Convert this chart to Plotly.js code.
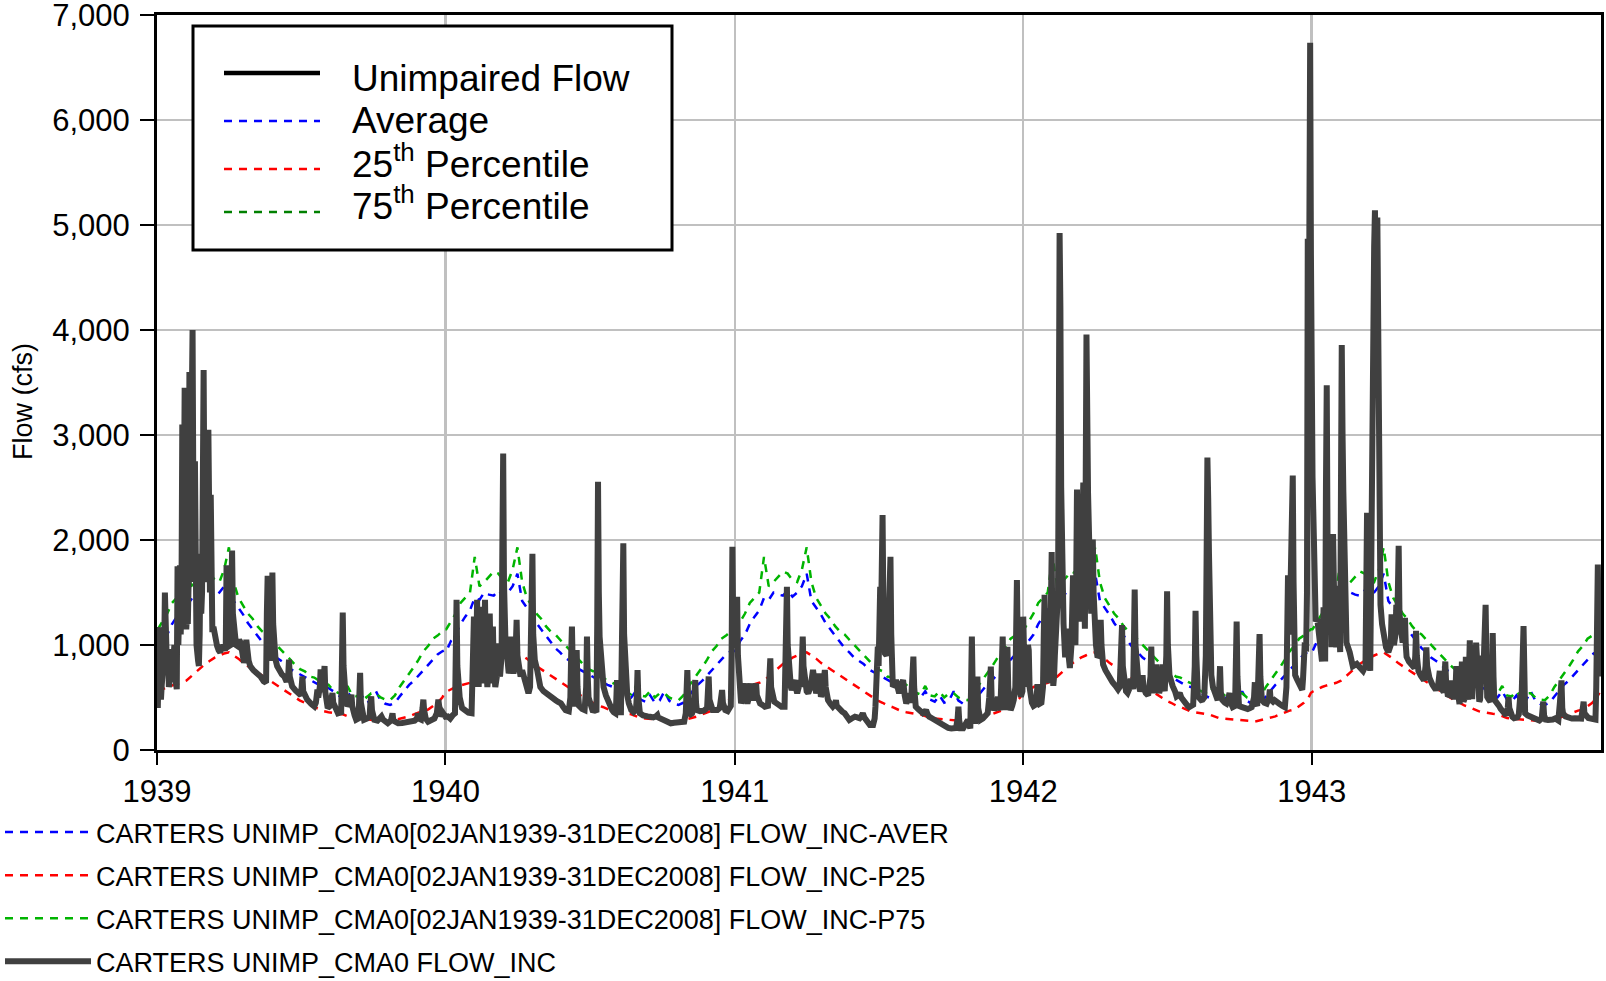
<!DOCTYPE html>
<html><head><meta charset="utf-8">
<script src="https://cdn.plot.ly/plotly-3.0.1.min.js"></script>
<style>html,body{margin:0;padding:0;background:#fff}#chart{width:1606px;height:981px}</style>
</head><body><div id="chart"></div>
<script>
// ---- Day-of-year climatology (repeats every year) ----
const climDoy = [1,7,13,19,25,31,37,43,49,55,61,67,73,79,85,91,97,103,109,115,121,127,133,139,145,151,157,163,169,175,181,187,193,199,205,211,217,223,229,235,241,247,253,259,265,271,277,283,289,295,301,307,313,319,325,331,337,343,349,355,361,364];
const climAver = [940,1040,1100,1200,1270,1330,1450,1430,1500,1480,1470,1520,1460,1500,1560,1680,1420,1360,1290,1210,1150,1090,1030,970,930,880,850,820,770,745,720,690,665,645,620,603,590,560,520,500,560,480,460,520,450,470,560,470,440,430,450,510,570,620,660,710,770,820,870,910,940,950];
const climP25 = [555,580,600,615,625,640,660,700,740,780,820,850,880,900,920,930,900,870,830,800,770,740,705,680,650,620,590,560,525,500,470,450,425,410,390,370,360,350,345,340,320,305,300,295,290,285,285,280,275,275,285,300,310,320,340,360,375,385,420,450,500,545];
const climP75 = [1150,1230,1300,1400,1450,1500,1840,1560,1600,1650,1700,1680,1620,1600,1720,1930,1600,1450,1380,1300,1250,1180,1130,1100,1050,1000,960,900,850,810,770,750,700,690,660,640,620,570,545,530,610,520,510,560,500,540,540,500,480,475,520,600,660,720,790,860,940,990,1060,1090,1130,1150];
const years = [1939,1940,1941,1942,1943];

// ---- Unimpaired daily flow, [day of year (0 = Jan 1), cfs] ----
const flow1939 = [[1,400],[2,1100],[3,1170],[4,600],[5,480],[6,620],[7,800],[8,700],[9,900],[10,1500],[11,1000],[12,950],[14,900],[15,600],[17,700],[18,960],[19,800],[21,900],[22,1000],[23,700],[25,580],[26,1750],[27,1000],[28,1300],[29,1760],[30,1100],[31,1500],[32,3100],[33,1600],[34,2200],[35,3450],[36,1800],[37,1150],[38,1300],[39,1200],[40,1600],[41,3600],[42,1900],[43,1600],[44,3300],[45,4000],[46,2400],[47,1700],[48,2750],[49,1500],[50,1000],[52,850],[53,800],[54,1100],[55,1870],[56,1300],[57,1500],[58,2900],[59,3620],[60,2300],[61,1600],[62,2430],[63,1600],[64,1800],[65,3050],[66,2100],[67,1500],[68,2430],[69,1500],[70,1150],[72,1150],[74,1000],[76,990],[78,950],[80,930],[82,1000],[84,960],[86,950],[87,980],[88,1760],[89,1200],[90,1050],[91,990],[93,1000],[94,1300],[95,1900],[96,1300],[98,1050],[100,1000],[102,990],[104,1050],[106,1020],[108,900],[110,830],[112,900],[113,1050],[114,980],[116,850],[118,800],[122,760],[127,735],[131,700],[135,655],[138,640],[139,1300],[140,1660],[141,1100],[142,950],[144,850],[145,1200],[146,1690],[147,1200],[148,950],[150,860],[152,800],[154,767],[158,720],[161,700],[164,650],[166,700],[167,860],[168,700],[171,607],[175,570],[178,543],[182,520],[183,600],[184,700],[185,560],[187,520],[190,480],[195,440],[199,415],[201,450],[203,575],[204,500],[206,600],[207,767],[208,600],[210,550],[211,700],[212,800],[213,550],[216,400],[219,420],[221,480],[222,543],[223,450],[226,380],[229,350],[233,360],[234,700],[235,1310],[236,800],[237,550],[239,480],[241,420],[244,450],[246,527],[247,420],[250,330],[252,288],[255,300],[256,500],[257,735],[258,450],[260,330],[262,288],[266,300],[269,320],[270,450],[271,511],[272,380],[275,288],[279,280],[283,300],[284,320],[286,290],[289,270],[292,255],[296,280],[298,350],[299,280],[302,260],[305,255],[310,258],[315,262],[320,265],[322,270],[326,280],[329,300],[330,350],[331,300],[334,290],[336,400],[337,480],[338,380],[340,300],[343,270],[347,280],[351,300],[354,350],[356,480],[357,420],[359,350],[360,320],[362,350],[364,317]];
const flow1940 = [[0,317],[3,320],[6,300],[9,330],[12,350],[13,900],[14,1430],[15,800],[16,667],[18,500],[21,400],[25,370],[29,355],[33,350],[34,700],[36,1270],[37,800],[38,600],[39,900],[40,1430],[41,900],[42,600],[43,900],[44,1365],[45,900],[47,700],[48,635],[49,1000],[50,1430],[51,900],[53,600],[55,800],[56,1300],[57,900],[58,635],[59,800],[60,1175],[61,800],[63,600],[65,700],[66,1015],[67,800],[69,700],[71,900],[72,1970],[73,2825],[74,1600],[75,1240],[76,1000],[77,1080],[78,900],[80,730],[82,800],[83,1080],[84,850],[86,730],[88,800],[89,1000],[90,1240],[91,900],[93,730],[95,700],[97,760],[99,700],[101,635],[103,580],[105,540],[107,600],[108,900],[109,1500],[110,1870],[111,1100],[113,857],[116,762],[120,600],[124,560],[127,540],[130,520],[133,508],[136,490],[139,476],[142,460],[146,444],[149,410],[152,380],[156,370],[158,500],[159,900],[160,1175],[161,800],[162,600],[164,413],[165,600],[166,952],[167,600],[169,420],[173,390],[176,380],[178,600],[179,1080],[180,700],[181,500],[184,400],[186,380],[189,375],[191,380],[192,1200],[193,2555],[194,1500],[195,1080],[197,850],[200,600],[203,520],[205,476],[208,420],[211,380],[213,360],[215,350],[216,450],[217,667],[218,450],[220,360],[222,360],[223,800],[224,1400],[225,1970],[226,1100],[228,667],[230,520],[232,444],[235,380],[238,360],[241,380],[242,500],[243,762],[244,500],[246,350],[250,330],[253,317],[256,320],[259,317],[263,310],[266,320],[268,333],[269,310],[272,300],[276,286],[280,270],[285,254],[289,260],[293,262],[297,265],[302,270],[304,350],[305,600],[306,762],[307,500],[308,350],[310,340],[312,350],[314,400],[315,550],[316,667],[317,450],[318,380],[322,370],[327,375],[331,400],[332,550],[333,700],[334,480],[336,400],[338,380],[341,380],[344,380],[347,400],[349,500],[350,571],[351,450],[354,380],[357,370],[359,400],[361,420],[362,900],[363,1936],[364,1200],[365,1000]];
const flow1941 = [[1,1000],[2,1200],[3,1460],[4,900],[6,700],[8,444],[10,500],[12,600],[13,635],[14,500],[16,444],[18,500],[19,550],[20,635],[21,520],[23,476],[25,520],[26,600],[27,635],[28,520],[30,470],[32,444],[35,430],[38,413],[42,420],[44,700],[45,873],[46,600],[48,476],[50,460],[53,444],[56,430],[59,413],[63,413],[64,800],[65,1300],[66,1555],[67,1000],[69,667],[71,600],[72,571],[74,620],[76,667],[77,600],[79,540],[81,600],[82,667],[84,600],[85,800],[86,1080],[87,800],[89,603],[91,560],[93,540],[96,600],[99,762],[101,650],[103,540],[105,600],[107,730],[108,600],[109,508],[111,550],[113,650],[114,762],[115,600],[118,476],[121,440],[124,413],[127,440],[128,476],[129,420],[133,380],[136,365],[139,350],[142,320],[145,286],[148,300],[152,317],[155,310],[158,302],[160,320],[162,350],[164,310],[166,286],[169,260],[171,238],[175,238],[177,300],[178,413],[180,700],[181,984],[182,800],[183,1200],[184,1555],[185,1200],[186,1800],[187,2238],[188,1400],[189,1000],[190,920],[192,900],[193,950],[194,984],[195,1300],[196,1600],[197,1840],[198,1100],[200,603],[202,620],[204,667],[206,600],[208,540],[210,600],[212,650],[213,667],[215,520],[217,444],[219,480],[221,540],[223,450],[224,600],[225,800],[226,889],[227,600],[229,413],[232,390],[234,380],[236,360],[238,350],[240,360],[242,380],[244,340],[246,317],[250,300],[253,286],[256,270],[259,254],[262,240],[265,222],[270,210],[274,206],[278,206],[280,210],[282,300],[283,413],[284,280],[286,206],[289,206],[290,215],[293,260],[295,286],[296,230],[298,206],[299,600],[300,1080],[301,600],[302,286],[304,250],[306,500],[307,700],[308,400],[311,286],[314,300],[316,317],[318,330],[320,350],[322,500],[323,700],[324,794],[325,500],[328,380],[331,420],[333,508],[334,430],[336,380],[337,600],[338,900],[339,1080],[340,700],[342,380],[344,700],[345,984],[346,600],[349,380],[351,420],[353,476],[355,600],[356,1200],[357,1620],[358,1000],[359,700],[360,603],[362,508],[364,560]];
const flow1942 = [[0,1270],[1,800],[2,600],[3,900],[4,1000],[5,700],[6,1000],[7,950],[8,600],[9,510],[11,450],[13,420],[15,430],[17,500],[18,628],[19,500],[21,441],[23,450],[25,600],[26,1100],[27,1478],[28,900],[29,690],[30,650],[31,713],[32,650],[33,640],[34,900],[35,1500],[36,1885],[37,900],[38,611],[39,700],[40,900],[41,1019],[42,1100],[43,1325],[44,1500],[45,3000],[46,4925],[47,4212],[48,2500],[49,1800],[50,1495],[51,1200],[53,883],[54,1000],[55,1155],[56,1000],[58,850],[59,781],[61,1000],[62,1400],[63,1664],[64,1300],[65,1150],[66,1000],[67,1600],[68,2480],[69,1800],[70,1495],[71,1300],[72,1223],[73,1500],[74,1970],[75,2300],[76,2548],[77,1600],[78,1155],[79,2500],[80,3957],[81,3200],[82,2446],[83,1800],[85,1495],[86,1300],[87,1600],[88,2004],[89,1500],[90,1155],[92,1000],[94,883],[96,900],[97,1000],[98,1240],[99,1000],[101,815],[104,760],[107,713],[110,680],[113,645],[117,610],[120,577],[122,600],[123,900],[124,1100],[125,1189],[126,800],[128,600],[130,560],[132,543],[134,580],[136,679],[137,600],[139,580],[140,1000],[141,1529],[142,1000],[144,713],[146,620],[148,560],[150,600],[151,713],[152,600],[155,543],[158,520],[161,700],[162,985],[163,700],[165,543],[167,650],[168,815],[169,650],[172,543],[174,600],[176,815],[177,650],[179,560],[181,900],[182,1512],[183,1000],[185,713],[187,650],[189,611],[192,560],[194,510],[196,520],[198,543],[200,500],[202,475],[204,460],[206,441],[208,420],[210,408],[213,420],[215,430],[217,800],[218,1325],[219,900],[221,510],[223,480],[225,475],[227,480],[229,500],[231,900],[232,2000],[233,2785],[234,2400],[235,1868],[236,1200],[238,713],[240,600],[242,543],[244,500],[246,475],[248,600],[249,798],[250,550],[252,475],[255,450],[257,441],[259,480],[261,543],[262,460],[265,408],[268,420],[269,800],[270,1223],[271,700],[273,420],[276,410],[280,400],[284,391],[287,400],[289,408],[292,500],[293,645],[294,450],[296,420],[297,600],[298,900],[299,1104],[300,700],[302,475],[305,450],[308,441],[311,500],[312,577],[313,480],[316,460],[318,475],[321,450],[324,441],[328,420],[331,408],[333,600],[334,1200],[335,1664],[336,1300],[337,1100],[338,1500],[339,2072],[340,2400],[341,2615],[342,1600],[344,713],[346,679],[348,650],[350,611],[351,616],[353,573],[354,679],[355,978],[356,985],[358,978],[359,1500],[360,4870],[361,3500],[362,4900],[363,6737],[364,4710]];
const flow1943 = [[0,3270],[1,2600],[3,1923],[5,1225],[7,1250],[10,1068],[13,843],[15,1360],[16,1000],[17,843],[18,2500],[19,3475],[20,2000],[21,1563],[22,1800],[23,2013],[24,1300],[25,978],[26,1500],[27,2058],[28,1600],[29,1300],[31,978],[33,1563],[34,1200],[36,933],[37,2500],[38,3857],[39,3000],[40,2463],[42,1428],[44,1023],[48,933],[52,798],[57,820],[61,776],[65,753],[68,800],[69,1500],[70,2260],[71,1200],[72,800],[74,753],[75,1500],[76,2868],[77,3500],[78,4420],[79,4800],[80,5140],[81,4500],[82,4000],[83,5072],[84,3500],[85,2823],[86,1800],[87,1383],[89,1200],[91,1113],[94,978],[97,933],[100,1000],[101,1293],[102,1100],[104,1000],[106,1100],[107,1383],[108,1100],[109,1500],[110,1945],[111,1300],[113,1113],[115,1023],[117,1150],[118,1260],[119,1000],[120,888],[123,843],[127,800],[130,780],[131,900],[132,1135],[133,900],[135,753],[138,708],[142,663],[144,800],[145,978],[146,800],[149,686],[153,618],[157,573],[160,620],[161,700],[162,753],[163,600],[165,573],[167,550],[168,700],[169,843],[170,650],[172,528],[175,520],[176,600],[177,663],[178,550],[180,484],[182,600],[183,798],[184,600],[186,460],[187,438],[189,600],[190,843],[191,600],[192,460],[194,500],[195,888],[196,600],[198,480],[199,700],[200,1045],[201,800],[202,500],[203,484],[205,1000],[206,900],[207,700],[208,1023],[209,800],[210,484],[212,460],[213,480],[215,700],[216,900],[217,700],[219,1000],[220,1383],[221,900],[222,506],[224,480],[226,460],[228,600],[229,1113],[230,700],[231,480],[233,450],[235,438],[237,420],[239,393],[241,370],[243,349],[246,330],[248,400],[249,506],[250,400],[252,326],[254,315],[256,303],[258,305],[260,310],[262,340],[263,440],[264,528],[265,360],[266,500],[267,900],[268,1180],[269,600],[270,349],[273,330],[276,320],[279,310],[282,303],[285,295],[288,281],[291,300],[292,400],[293,461],[294,330],[296,290],[299,285],[302,281],[305,290],[308,300],[310,290],[312,281],[314,450],[315,600],[316,663],[317,400],[318,349],[321,320],[325,303],[329,300],[333,303],[337,300],[341,300],[343,400],[344,461],[345,350],[347,320],[350,305],[353,300],[356,295],[359,290],[360,600],[361,1000],[362,1766],[363,1100],[364,700]];
const flowByYear = [flow1939, flow1940, flow1941, flow1942, flow1943];

const seriesNames = [
  'CARTERS UNIMP_CMA0[02JAN1939-31DEC2008] FLOW_INC-AVER',
  'CARTERS UNIMP_CMA0[02JAN1939-31DEC2008] FLOW_INC-P25',
  'CARTERS UNIMP_CMA0[02JAN1939-31DEC2008] FLOW_INC-P75',
  'CARTERS UNIMP_CMA0 FLOW_INC'
];
const boxLabels = ['Unimpaired Flow', 'Average', '25<sup>th</sup> Percentile', '75<sup>th</sup> Percentile'];
const yTitle = 'Flow (cfs)';
const yTicks = [0,1000,2000,3000,4000,5000,6000,7000];

// ---- build ----
function toDate(y, d) {
  return new Date(Date.UTC(y, 0, 1) + d * 86400000).toISOString().slice(0, 10);
}
function climSeries(vals) {
  const x = [], y = [];
  years.forEach(yr => climDoy.forEach((d, i) => { x.push(toDate(yr, d)); y.push(vals[i]); }));
  return {x, y};
}
const flowX = [], flowY = [];
years.forEach((yr, k) => flowByYear[k].forEach(p => { flowX.push(toDate(yr, p[0])); flowY.push(p[1]); }));

const FONT = '"Liberation Sans", Arial, Helvetica, sans-serif';
const DASH = '8px,7px';
const GREEN = '#00b400';

const cA = climSeries(climAver), c25 = climSeries(climP25), c75 = climSeries(climP75);
const traces = [
  {x: cA.x, y: cA.y, name: seriesNames[0], mode: 'lines', legendgroup: 'a', line: {color: '#0000ff', width: 2.5, dash: DASH}},
  {x: c25.x, y: c25.y, name: seriesNames[1], mode: 'lines', legendgroup: 'b', line: {color: '#ff0000', width: 2.5, dash: DASH}},
  {x: c75.x, y: c75.y, name: seriesNames[2], mode: 'lines', legendgroup: 'c', line: {color: GREEN, width: 2.5, dash: DASH}},
  {x: flowX, y: flowY, name: seriesNames[3], mode: 'lines', legendgroup: 'd', line: {color: '#404040', width: 6}}
];

// page pixel -> paper coordinates
const ML = 157, MR = 5, MT = 15, MB = 231, W = 1606, H = 981;
const PW = W - ML - MR, PH = H - MT - MB;
const px = v => (v - ML) / PW;
const py = v => (H - MB - v) / PH;

const shapes = [
  {type: 'rect', xref: 'paper', yref: 'paper', x0: px(193), x1: px(672), y0: py(250), y1: py(26), line: {color: '#000', width: 3}, fillcolor: '#fff', layer: 'above'},
  {type: 'line', xref: 'paper', yref: 'paper', x0: px(224), x1: px(320), y0: py(73), y1: py(73), line: {color: '#000', width: 4.5}, layer: 'above'},
  {type: 'line', xref: 'paper', yref: 'paper', x0: px(224), x1: px(320), y0: py(121), y1: py(121), line: {color: '#0000ff', width: 2.5, dash: DASH}, layer: 'above'},
  {type: 'line', xref: 'paper', yref: 'paper', x0: px(224), x1: px(320), y0: py(169), y1: py(169), line: {color: '#ff0000', width: 2.5, dash: DASH}, layer: 'above'},
  {type: 'line', xref: 'paper', yref: 'paper', x0: px(224), x1: px(320), y0: py(212), y1: py(212), line: {color: '#008000', width: 2.5, dash: DASH}, layer: 'above'}
];
const labelY = [78, 120, 162, 204];
const annotations = boxLabels.map((t, i) => ({
  text: t, xref: 'paper', yref: 'paper', x: px(350), y: py(labelY[i]), xanchor: 'left', yanchor: 'middle',
  showarrow: false, font: {family: FONT, size: 37, color: '#000'}
}));
annotations.push({text: yTitle, xref: 'paper', yref: 'paper', x: px(23), y: py(402), xanchor: 'center', yanchor: 'middle',
  textangle: -90, showarrow: false, font: {family: FONT, size: 27, color: '#000'}});

const axisCommon = {
  showgrid: true, gridcolor: '#c0c0c0', gridwidth: 2.5, showline: true, linecolor: '#000', linewidth: 3,
  mirror: true, ticks: 'outside', tickcolor: '#000', tickwidth: 2, zeroline: false,
  ticklabeloverflow: 'allow', tickfont: {family: FONT, size: 31, color: '#000'}
};
const layout = {
  width: W, height: H,
  margin: {l: ML, r: MR, t: MT, b: MB, pad: 0},
  paper_bgcolor: '#fff', plot_bgcolor: '#fff',
  font: {family: FONT, color: '#000'},
  xaxis: Object.assign({}, axisCommon, {type: 'date', range: ['1939-01-01', '1944-01-02'],
    tickmode: 'array', tickvals: years.map(y => y + '-01-01'), ticktext: years.map(String), ticklen: 12, ticklabelstandoff: 0}),
  yaxis: Object.assign({}, axisCommon, {range: [0, 7001], tickmode: 'array', tickvals: yTicks, tickformat: ',d', ticklen: 14, ticklabelstandoff: 4}),
  showlegend: true,
  legend: {xref: 'paper', yref: 'container', x: -ML / PW, y: 1 - 808 / H, xanchor: 'left', yanchor: 'top',
    font: {family: FONT, size: 27, color: '#000'}, itemwidth: 86, tracegroupgap: 5, traceorder: 'grouped',
    bgcolor: 'rgba(0,0,0,0)', borderwidth: 0},
  shapes: shapes, annotations: annotations
};
Plotly.newPlot('chart', traces, layout, {displayModeBar: false, staticPlot: true});
</script>
</body></html>
